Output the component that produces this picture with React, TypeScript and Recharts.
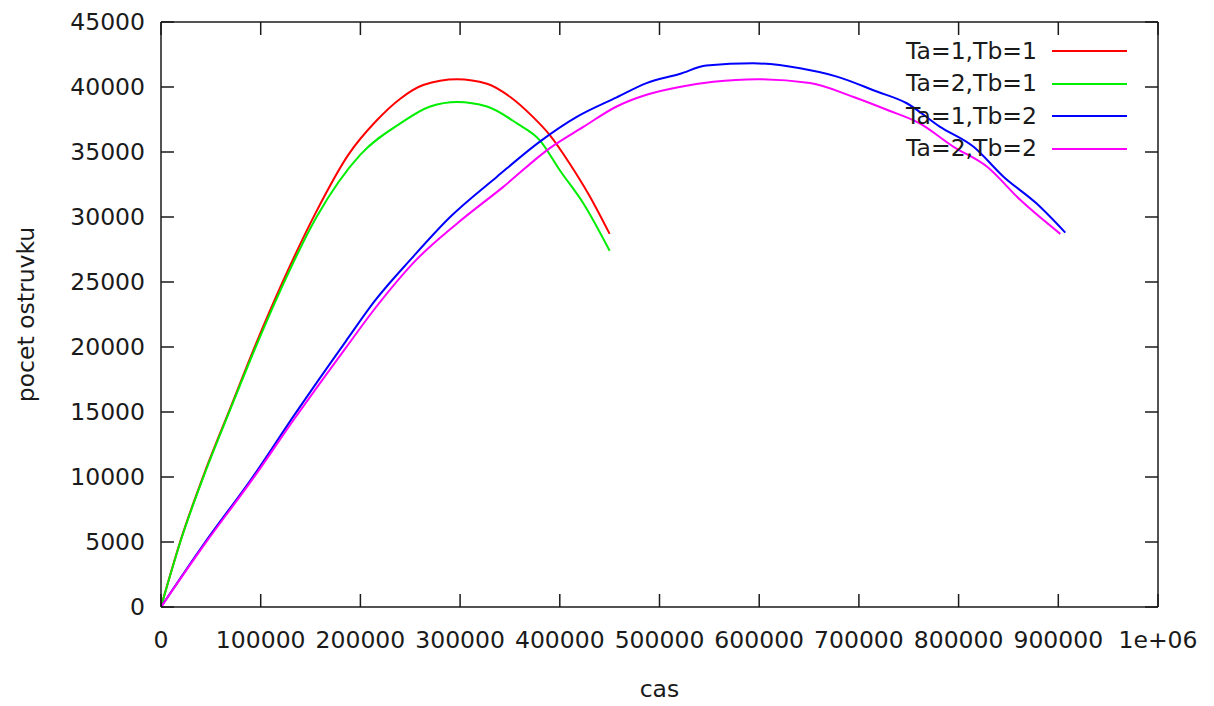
import React from "react";
import { LineChart, Line, XAxis, YAxis, Legend, ReferenceLine } from "recharts";

// [cas, pocet ostruvku]
const ta1tb1 = [
  [0, 0], [20000, 5200], [45000, 10600], [70000, 15400], [95000, 20200],
  [122000, 25000], [155000, 30300], [188000, 34800], [216000, 37400],
  [240000, 39100], [263000, 40150], [297000, 40600], [327000, 40250],
  [350000, 39250], [373000, 37700], [390000, 36300], [410000, 34100],
  [430000, 31600], [450000, 28700],
];
const ta2tb1 = [
  [0, 0], [20000, 5150], [45000, 10500], [70000, 15300], [95000, 20000],
  [120000, 24400], [156000, 30000], [200000, 34800], [240000, 37200],
  [270000, 38500], [297000, 38850], [327000, 38500], [357000, 37200],
  [380000, 35900], [400000, 33600], [424000, 31000], [450000, 27400],
];
const ta1tb2 = [
  [0, 0], [44000, 4950], [92000, 10000], [134000, 14800], [185000, 20400],
  [215000, 23600], [250000, 26700], [290000, 30000], [337000, 33100],
  [380000, 35800], [417000, 37700], [457000, 39200], [487000, 40300],
  [520000, 41000], [547000, 41650], [594000, 41820], [641000, 41440],
  [678000, 40800], [718000, 39650], [748000, 38750], [781000, 36950],
  [815000, 35400], [845000, 33100], [878000, 31050], [907000, 28800],
];
const ta2tb2 = [
  [0, 0], [44000, 4850], [92000, 9850], [134000, 14500], [185000, 19900],
  [215000, 23000], [256000, 26700], [297000, 29500], [343000, 32300],
  [390000, 35300], [424000, 36950], [457000, 38500], [487000, 39400],
  [520000, 40000], [554000, 40400], [598000, 40600], [651000, 40300],
  [694000, 39250], [728000, 38250], [761000, 37200], [795000, 35400],
  [828000, 33900], [862000, 31300], [902000, 28700],
];

const xTicks = [0, 100000, 200000, 300000, 400000, 500000, 600000, 700000, 800000, 900000, 1000000];
const yTicks = [0, 5000, 10000, 15000, 20000, 25000, 30000, 35000, 40000, 45000];

const series = [
  { name: "Ta=1,Tb=1", color: "#ff0000", points: ta1tb1 },
  { name: "Ta=2,Tb=1", color: "#00ee00", points: ta2tb1 },
  { name: "Ta=1,Tb=2", color: "#0000ff", points: ta1tb2 },
  { name: "Ta=2,Tb=2", color: "#ff00ff", points: ta2tb2 },
];
const order = series.map((s) => s.name);

const W = 1214;
const H = 706;
const LEFT = 161;
const RIGHT = 1158;
const TOP = 22;
const BOTTOM = 607;
const TICK = 13;
const INK = "#1a1a1a";
const FONT = 23.5;

const fmtX = (v: number) => (v >= 1000000 ? "1e+06" : String(v));

function XTick({ x, payload }: any) {
  return (
    <g>
      <line x1={x} x2={x} y1={BOTTOM} y2={BOTTOM - TICK} stroke={INK} strokeWidth={1.5} />
      <line x1={x} x2={x} y1={TOP} y2={TOP + TICK} stroke={INK} strokeWidth={1.5} />
      <text x={x} y={BOTTOM + 41} textAnchor="middle" fontSize={FONT} fill={INK}>
        {fmtX(payload.value)}
      </text>
    </g>
  );
}

function YTick({ y, payload }: any) {
  return (
    <g>
      <line x1={LEFT} x2={LEFT + TICK} y1={y} y2={y} stroke={INK} strokeWidth={1.5} />
      <line x1={RIGHT} x2={RIGHT - TICK} y1={y} y2={y} stroke={INK} strokeWidth={1.5} />
      <text x={LEFT - 16} y={y} dy="0.36em" textAnchor="end" fontSize={FONT} fill={INK}>
        {payload.value}
      </text>
    </g>
  );
}

function LegendBox({ payload }: any) {
  const items = [...(payload || [])].sort(
    (a: any, b: any) => order.indexOf(a.value) - order.indexOf(b.value)
  );
  return (
    <div>
      {items.map((p: any) => (
        <div key={p.value} style={{ display: "flex", alignItems: "center", height: 32.5 }}>
          <span style={{ width: 200, textAlign: "right", fontSize: FONT, color: INK, lineHeight: 1 }}>
            {p.value}
          </span>
          <span style={{ width: 75, height: 2, marginLeft: 15, background: p.color }} />
        </div>
      ))}
    </div>
  );
}

export default function App() {
  return (
    <div
      style={{
        position: "absolute",
        left: 0,
        top: 0,
        width: W,
        height: H,
        background: "#fff",
        fontFamily: "'DejaVu Sans', sans-serif",
      }}
    >
      <LineChart
        width={W}
        height={H}
        margin={{ top: TOP, right: W - RIGHT, bottom: H - BOTTOM - 1, left: LEFT - 1 }}
      >
        <XAxis
          type="number"
          dataKey="x"
          domain={[0, 1000000]}
          ticks={xTicks}
          allowDataOverflow
          height={1}
          tickLine={false}
          axisLine={{ stroke: INK, strokeWidth: 1.5 }}
          tick={<XTick />}
          interval={0}
          label={({ viewBox }: any) => (
            <text
              x={viewBox.x + viewBox.width / 2}
              y={BOTTOM + 90}
              textAnchor="middle"
              fontSize={FONT}
              fill={INK}
            >
              cas
            </text>
          )}
        />
        <YAxis
          type="number"
          dataKey="y"
          domain={[0, 45000]}
          ticks={yTicks}
          allowDataOverflow
          width={1}
          tickLine={false}
          axisLine={{ stroke: INK, strokeWidth: 1.5 }}
          tick={<YTick />}
          interval={0}
          label={({ viewBox }: any) => {
            const cy = viewBox.y + viewBox.height / 2;
            return (
              <text
                x={26}
                y={cy}
                transform={`rotate(-90 26 ${cy})`}
                textAnchor="middle"
                dy="0.36em"
                fontSize={FONT}
                fill={INK}
              >
                pocet ostruvku
              </text>
            );
          }}
        />
        <ReferenceLine y={45000} stroke={INK} strokeWidth={1.5} />
        <ReferenceLine x={1000000} stroke={INK} strokeWidth={1.5} />
        {series.map((s) => (
          <Line
            key={s.name}
            name={s.name}
            data={s.points.map(([x, y]) => ({ x, y }))}
            dataKey="y"
            type="monotone"
            stroke={s.color}
            strokeWidth={2}
            dot={false}
            activeDot={false}
            isAnimationActive={false}
          />
        ))}
        <Legend
          layout="vertical"
          align="center"
          verticalAlign="middle"
          content={<LegendBox />}
          wrapperStyle={{ position: "absolute", left: 837, top: 35, width: 300 }}
        />
      </LineChart>
    </div>
  );
}
